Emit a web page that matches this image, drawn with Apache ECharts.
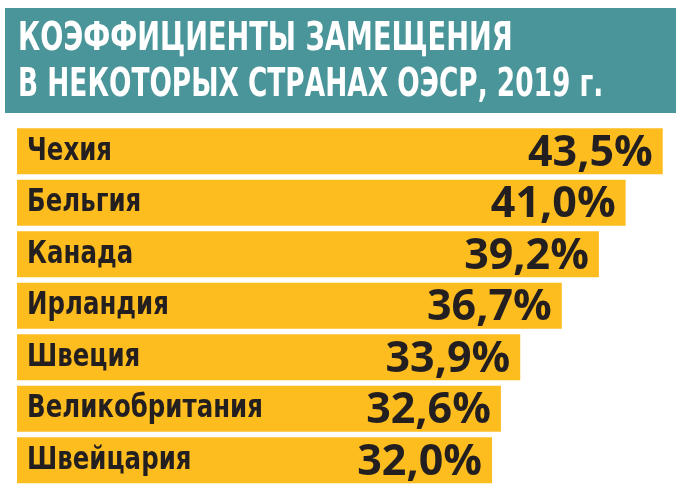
<!DOCTYPE html>
<html>
<head>
<meta charset="utf-8">
<style>
  html, body { margin: 0; padding: 0; background: #fff; }
  #chart { width: 687px; height: 490px; }
</style>
<script src="https://cdn.jsdelivr.net/npm/echarts@6/dist/echarts.min.js"></script>
</head>
<body>
<div id="chart"></div>
<script>
// данные
const titleLines = ['КОЭФФИЦИЕНТЫ ЗАМЕЩЕНИЯ', 'В НЕКОТОРЫХ СТРАНАХ ОЭСР, 2019 г.']
const countries = ['Чехия', 'Бельгия', 'Канада', 'Ирландия', 'Швеция', 'Великобритания', 'Швейцария']
const rates = [43.5, 41.0, 39.2, 36.7, 33.9, 32.6, 32.0]

const narrow = '"DejaVu Sans Condensed", "DejaVu Sans", sans-serif'
let mychart = echarts.init(document.getElementById('chart'))
mychart.setOption({
    animation: false,
    backgroundColor: '#fff',
    // шапка
    graphic: [
        { type: 'rect', shape: { x: 5, y: 8, width: 671, height: 105 }, style: { fill: '#4a9599' } },
        {
            type: 'text', x: 18, y: 39.5, scaleX: 0.775, scaleY: 1,
            style: { text: titleLines[0], fill: '#fff', font: 'bold 39px ' + narrow, verticalAlign: 'middle' }
        },
        {
            type: 'text', x: 18, y: 85.5, scaleX: 0.752, scaleY: 1,
            style: { text: titleLines[1], fill: '#fff', font: 'bold 39px ' + narrow, verticalAlign: 'middle' }
        }
    ],
    grid: { left: 17, top: 125.5, height: 360.5, width: 668 },
    xAxis: { type: 'value', min: 0, max: 45, show: false },
    yAxis: {
        type: 'category', data: countries, inverse: true,
        axisLine: { show: false }, axisTick: { show: false }, axisLabel: { show: false }
    },
    series: [
        {
            type: 'bar', data: rates, barCategoryGap: '10.5%',
            itemStyle: { color: '#fdbd1f' },
            label: {
                show: true, position: 'insideRight', distance: 10, offset: [0, 2],
                formatter: p => p.value.toFixed(1).replace('.', ',') + '%',
                color: '#231f20', fontFamily: '"Open Sans", sans-serif', fontWeight: 'bold', fontSize: 43
            }
        },
        {
            // названия стран, сжатые по горизонтали
            type: 'custom', z: 5,
            data: countries.map(c => [0, c]),
            renderItem: function (params, api) {
                const p = api.coord([0, api.value(1)])
                return {
                    type: 'text', x: p[0] + 10, y: p[1], scaleX: 0.85,
                    style: {
                        text: countries[params.dataIndex], fill: '#231f20',
                        font: 'bold 32px ' + narrow, verticalAlign: 'middle', align: 'left'
                    }
                }
            }
        }
    ]
})
</script>
</body>
</html>
